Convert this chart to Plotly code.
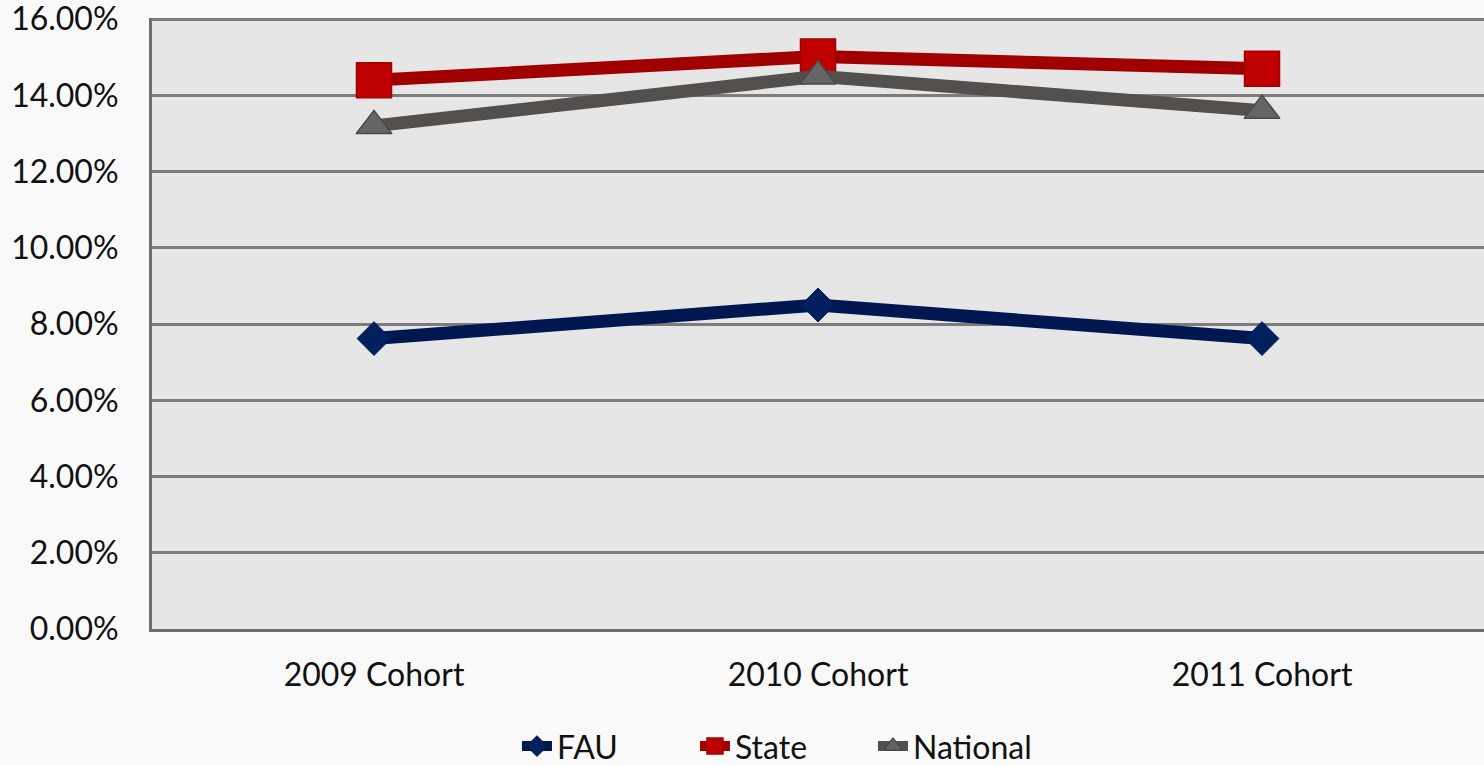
import plotly.graph_objects as go

categories = ["2009 Cohort", "2010 Cohort", "2011 Cohort"]
fau = [7.62, 8.50, 7.62]
state = [14.40, 15.02, 14.70]
national = [13.20, 14.50, 13.60]
y_ticks = [0, 2, 4, 6, 8, 10, 12, 14, 16]
y_tick_labels = [f"{v:.2f}%" for v in y_ticks]

FONT = "Lato, 'Open Sans', sans-serif"

fig = go.Figure()
fig.add_trace(go.Scatter(
    x=categories, y=fau, name="FAU", mode="lines+markers",
    line=dict(color="#00174f", width=13),
    marker=dict(symbol="diamond", size=26, color="#00205e",
                line=dict(color="#00174f", width=1)),
))
fig.add_trace(go.Scatter(
    x=categories, y=state, name="State", mode="lines+markers",
    line=dict(color="#a00000", width=13),
    marker=dict(symbol="square", size=35, color="#c00000",
                line=dict(color="#a30000", width=1.5)),
))
fig.add_trace(go.Scatter(
    x=categories, y=national, name="National", mode="lines+markers",
    line=dict(color="#524f4d", width=13),
    marker=dict(symbol="triangle-up", size=31, color="#666464",
                line=dict(color="#4a4848", width=1.5)),
))

fig.update_layout(
    width=1484, height=765,
    margin=dict(l=152, r=0, t=18, b=136, autoexpand=False),
    paper_bgcolor="#f9f9f9",
    plot_bgcolor="#e6e6e6",
    font=dict(family=FONT, size=32, color="#111111"),
    showlegend=True,
    legend=dict(
        orientation="h", x=0.274, xanchor="left", y=-0.192, yanchor="middle",
        font=dict(family=FONT, size=32, color="#111111"),
        bgcolor="rgba(0,0,0,0)", entrywidth=133, entrywidthmode="pixels",
        tracegroupgap=0,
    ),
    xaxis=dict(
        type="category", range=[-0.5, 2.5], showgrid=False,
        showline=True, linecolor="#6e6e6e", linewidth=3,
        ticks="", ticklabelstandoff=16, tickfont=dict(size=32),
        zeroline=False,
    ),
    yaxis=dict(
        range=[0, 16.03], tickvals=y_ticks, ticktext=y_tick_labels,
        showgrid=True, gridcolor="#7c7c7c", gridwidth=2.5,
        showline=True, linecolor="#6e6e6e", linewidth=3,
        ticks="", ticklabelstandoff=24, tickfont=dict(size=32),
        ticklabeloverflow="allow",
        zeroline=False,
    ),
)

fig.write_html("out.html")
